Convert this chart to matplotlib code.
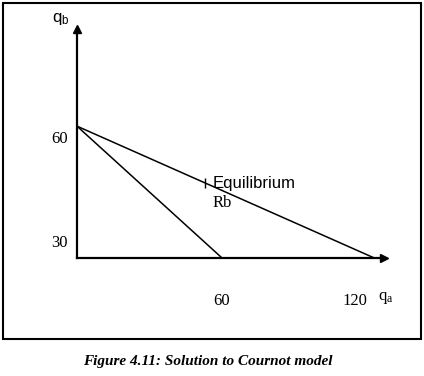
import matplotlib
matplotlib.use("Agg")
import matplotlib.pyplot as plt
from matplotlib.patches import Rectangle

# reaction curves (schematic units)
ra_qa = [0, 60]
ra_qb = [63, 25]
rb_qa = [0, 123]
rb_qb = [63, 25]
eq_qa = [53]
eq_qb = [46.6]

x_ticks = [60, 120]
x_ticklabels = ["60", "120"]
y_ticks = [60, 30]
y_ticklabels = ["60", "30"]

plt.rcParams["font.family"] = ["Liberation Serif", "DejaVu Serif"]
plt.rcParams["mathtext.default"] = "regular"

fig = plt.figure(figsize=(4.24, 3.76), dpi=100)
ax = fig.add_axes([77 / 424, 118 / 376, 307 / 424, 229 / 376])
ax.set_xlim(0, 127.0)
ax.set_ylim(25, 91.0)

ax.plot(ra_qa, ra_qb, color="black", lw=1.1)
ax.plot(rb_qa, rb_qb, color="black", lw=1.1)
ax.plot(eq_qa, eq_qb, marker="|", color="black", ms=7, mew=1.0, ls="none")

ax.annotate("Equilibrium", (eq_qa[0], eq_qb[0]), xytext=(5.5, 0),
            textcoords="offset points", va="center", ha="left", fontsize=12,
            family=["Liberation Sans", "DejaVu Sans"])
ax.annotate("Rb", (eq_qa[0], eq_qb[0]), xytext=(5.5, -14.5),
            textcoords="offset points", va="center", ha="left", fontsize=12)

# axes with arrows
for s in ["top", "right"]:
    ax.spines[s].set_visible(False)
for s in ["left", "bottom"]:
    ax.spines[s].set_linewidth(1.6)
ax.plot(1, 0, ">", color="black", ms=6, transform=ax.transAxes, clip_on=False)
ax.plot(0, 1, "^", color="black", ms=6, transform=ax.transAxes, clip_on=False)

ax.set_xticks(x_ticks)
ax.set_xticklabels(x_ticklabels, fontsize=12)
ax.get_xticklabels()[1].set_ha("right")
ax.set_yticks(y_ticks)
ax.set_yticklabels(y_ticklabels, fontsize=12)
ax.tick_params(axis="x", length=0, pad=25)
ax.tick_params(axis="y", length=0, pad=6.5)
ax.patch.set_alpha(0)

fig.text(386 / 424, 1 - 298 / 376, "q$_a$", fontsize=12, ha="center", va="center")
fig.text(61 / 424, 1 - 19 / 376, "q$_b$", fontsize=12, ha="center", va="center",
         family=["Liberation Sans", "DejaVu Sans"])

fig.patches.append(Rectangle((3 / 424, 37 / 376), 418 / 424, 336 / 376,
                             transform=fig.transFigure, fill=False,
                             edgecolor="black", lw=1.5))

fig.text(208 / 424, 1 - 362 / 376, "Figure 4.11: Solution to Cournot model",
         fontsize=11, fontweight="bold", fontstyle="italic", ha="center", va="center")

fig.savefig("out.png", dpi=100)
